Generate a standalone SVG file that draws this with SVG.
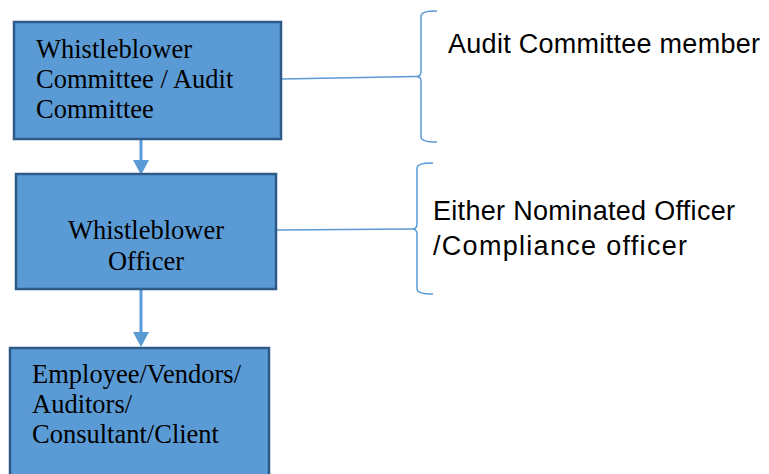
<svg xmlns="http://www.w3.org/2000/svg" width="769" height="474" viewBox="0 0 769 474">
<defs>
<style>
.box{fill:#5b9bd5;stroke:#2e5a88;stroke-width:2.5}
.t{font-family:"Liberation Serif","Times New Roman",serif;font-size:26.5px;fill:#000}
.s{font-family:"Liberation Sans",Arial,sans-serif;font-size:27px;fill:#000}
.ln{fill:none;stroke:#5b9bd5;stroke-width:3}
.ah{fill:#5b9bd5}
.br{fill:none;stroke:#5b9bd5;stroke-width:1.5}
</style>
</defs>
<rect width="769" height="474" fill="#fff"/>
<g id="connectors">
<line class="ln" x1="141" y1="140" x2="141" y2="162"/>
<polygon class="ah" points="133,160 149,160 141,175"/>
<line class="ln" x1="141" y1="290" x2="141" y2="334"/>
<polygon class="ah" points="133,332 149,332 141,347"/>
<line class="br" x1="282" y1="79" x2="416" y2="76.5"/>
<line class="br" x1="277" y1="230" x2="412" y2="229"/>
</g>
<g id="n1">
<rect class="box" x="14" y="22" width="267" height="117"/>
<text class="t" x="36" y="58">Whistleblower</text>
<text class="t" x="36" y="88">Committee / Audit</text>
<text class="t" x="36" y="118">Committee</text>
</g>
<g id="n2">
<rect class="box" x="16" y="174" width="260" height="115"/>
<text class="t" x="146" y="239" text-anchor="middle">Whistleblower</text>
<text class="t" x="146" y="270" text-anchor="middle">Officer</text>
</g>
<g id="n3">
<rect class="box" x="10" y="348" width="259" height="140"/>
<text class="t" x="32" y="383">Employee/Vendors/</text>
<text class="t" x="32" y="413">Auditors/</text>
<text class="t" x="32" y="443">Consultant/Client</text>
</g>
<g id="b1">
<path class="br" d="M437,11 Q421,11 421,16 L421,72 Q421,76.5 416,76.5 Q421,76.5 421,81 L421,137 Q421,142 437,142"/>
<text class="s" x="448" y="53" textLength="312">Audit Committee member</text>
</g>
<g id="b2">
<path class="br" d="M433,163 Q417,163 417,168 L417,224 Q417,229 412,229 Q417,229 417,234 L417,289 Q417,294 433,294"/>
<text class="s" x="433" y="220" textLength="302">Either Nominated Officer</text>
<text class="s" x="433" y="255" textLength="254">/Compliance officer</text>
</g>
</svg>
